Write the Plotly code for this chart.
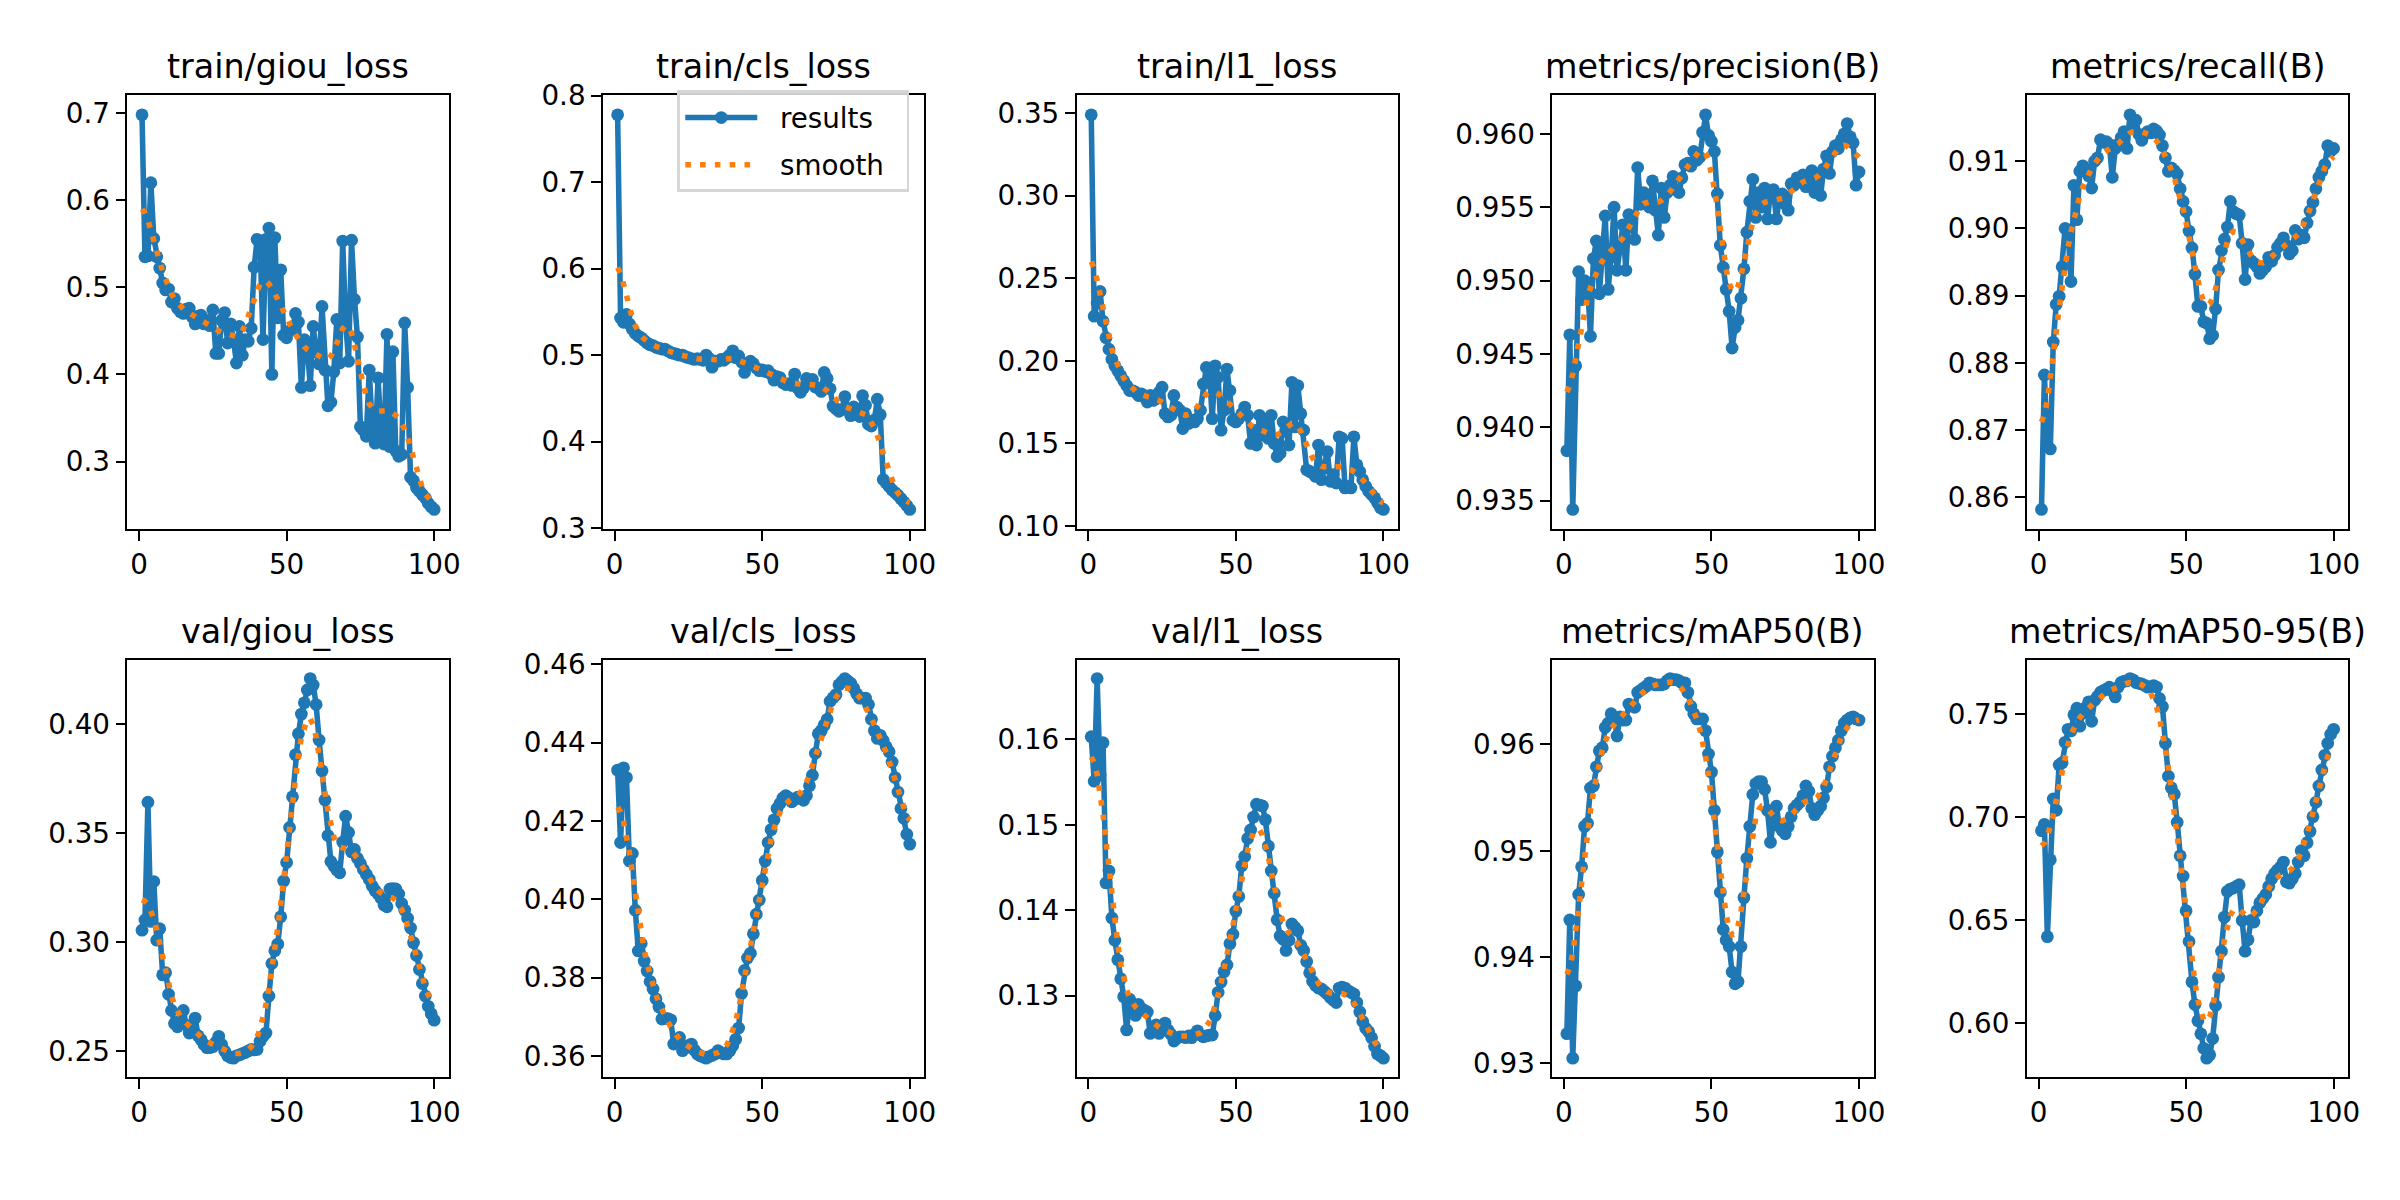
import numpy as np
import plotly.graph_objects as go

epochs = list(range(1, 101))

train_giou_loss = [
    0.698, 0.535, 0.536, 0.620, 0.556, 0.535, 0.522, 0.505, 0.497, 0.498,
    0.483, 0.487, 0.476, 0.472, 0.470, 0.475, 0.476, 0.466, 0.458, 0.467,
    0.468, 0.458, 0.462, 0.456, 0.474, 0.424, 0.424, 0.462, 0.471, 0.436,
    0.458, 0.440, 0.413, 0.455, 0.422, 0.440, 0.438, 0.453, 0.523, 0.555,
    0.551, 0.440, 0.555, 0.568, 0.400, 0.557, 0.465, 0.520, 0.445, 0.442,
    0.450, 0.452, 0.470, 0.460, 0.385, 0.440, 0.430, 0.387, 0.455, 0.426,
    0.412, 0.478, 0.405, 0.364, 0.368, 0.403, 0.463, 0.413, 0.553, 0.460,
    0.415, 0.554, 0.486, 0.443, 0.340, 0.336, 0.329, 0.405, 0.340, 0.321,
    0.396, 0.332, 0.320, 0.446, 0.317, 0.426, 0.312, 0.306, 0.308, 0.459,
    0.385, 0.282, 0.278, 0.270, 0.266, 0.262, 0.258, 0.252, 0.248, 0.245]

train_cls_loss = [
    0.778, 0.543, 0.538, 0.547, 0.536, 0.530, 0.525, 0.522, 0.520, 0.517,
    0.514, 0.512, 0.511, 0.509, 0.508, 0.507, 0.507, 0.505, 0.503, 0.502,
    0.501, 0.500, 0.500, 0.498, 0.497, 0.496, 0.495, 0.496, 0.495, 0.494,
    0.500, 0.496, 0.486, 0.493, 0.493, 0.495, 0.494, 0.497, 0.500, 0.505,
    0.497, 0.499, 0.492, 0.480, 0.488, 0.493, 0.490, 0.485, 0.482, 0.483,
    0.481, 0.482, 0.478, 0.471, 0.475, 0.474, 0.468, 0.466, 0.467, 0.465,
    0.478, 0.462, 0.457, 0.462, 0.473, 0.468, 0.472, 0.463, 0.462, 0.458,
    0.480, 0.473, 0.461, 0.441, 0.438, 0.435, 0.437, 0.452, 0.437, 0.430,
    0.440, 0.433, 0.429, 0.453, 0.442, 0.420, 0.418, 0.425, 0.449, 0.431,
    0.356, 0.352, 0.348, 0.344, 0.341, 0.338, 0.334, 0.330, 0.326, 0.3215]

train_l1_loss = [
    0.349, 0.227, 0.235, 0.242, 0.224, 0.214, 0.207, 0.201, 0.197, 0.194,
    0.191, 0.188, 0.185, 0.182, 0.182, 0.181, 0.179, 0.180, 0.178, 0.175,
    0.179, 0.176, 0.177, 0.181, 0.184, 0.168, 0.166, 0.167, 0.179, 0.172,
    0.170, 0.159, 0.168, 0.162, 0.164, 0.163, 0.165, 0.170, 0.186, 0.196,
    0.194, 0.165, 0.197, 0.190, 0.158, 0.170, 0.195, 0.182, 0.164, 0.163,
    0.165, 0.168, 0.172, 0.167, 0.150, 0.158, 0.149, 0.167, 0.155, 0.162,
    0.153, 0.167, 0.150, 0.142, 0.144, 0.163, 0.158, 0.149, 0.187, 0.160,
    0.185, 0.168, 0.158, 0.134, 0.133, 0.132, 0.130, 0.149, 0.128, 0.135,
    0.145, 0.127, 0.131, 0.126, 0.154, 0.153, 0.123, 0.124, 0.123, 0.154,
    0.137, 0.133, 0.128, 0.124, 0.121, 0.119, 0.117, 0.114, 0.111, 0.110]

precision_B = [
    0.9384, 0.9463, 0.9344, 0.9442, 0.9506, 0.9487, 0.9500, 0.9498, 0.9462, 0.9515,
    0.9527, 0.9491, 0.9520, 0.9544, 0.9494, 0.9516, 0.9550, 0.9507, 0.9522, 0.9538,
    0.9507, 0.9545, 0.9540, 0.9528, 0.9577, 0.9552, 0.9560, 0.9555, 0.9550, 0.9568,
    0.9548, 0.9531, 0.9563, 0.9543, 0.9560, 0.9565, 0.9571, 0.9562, 0.9560, 0.9570,
    0.9579, 0.9580, 0.9578, 0.9588, 0.9582, 0.9584, 0.9601, 0.9613, 0.9599, 0.9595,
    0.9588, 0.9559, 0.9524, 0.9509, 0.9494, 0.9479, 0.9454, 0.9468, 0.9473, 0.9488,
    0.9508, 0.9533, 0.9554, 0.9569, 0.9543, 0.9560, 0.9550, 0.9563, 0.9542, 0.9560,
    0.9562, 0.9542, 0.9556, 0.9559, 0.9552, 0.9548, 0.9566, 0.9565, 0.9570, 0.9568,
    0.9572, 0.9564, 0.9570, 0.9575, 0.9560, 0.9572, 0.9558, 0.9576, 0.9585, 0.9573,
    0.9588, 0.9592, 0.9590, 0.9596, 0.9600, 0.9607, 0.9598, 0.9594, 0.9565, 0.9574]

recall_B = [
    0.8582, 0.8782, 0.8676, 0.8672, 0.8831, 0.8887, 0.8899, 0.8943, 0.9000, 0.8998,
    0.8921, 0.9064, 0.9013, 0.9085, 0.9093, 0.9088, 0.9078, 0.9060, 0.9100, 0.9105,
    0.9132, 0.9128, 0.9129, 0.9125, 0.9076, 0.9119, 0.9125, 0.9135, 0.9144, 0.9119,
    0.9169, 0.9153, 0.9161, 0.9140, 0.9131, 0.9140, 0.9144, 0.9142, 0.9148, 0.9145,
    0.9139, 0.9123, 0.9105, 0.9085, 0.9090, 0.9086, 0.9081, 0.9059, 0.9040, 0.9025,
    0.8996, 0.8971, 0.8932, 0.8884, 0.8884, 0.8861, 0.8859, 0.8836, 0.8841, 0.8880,
    0.8938, 0.8967, 0.8984, 0.9002, 0.9040, 0.9025, 0.9022, 0.9020, 0.8978, 0.8924,
    0.8976, 0.8952, 0.8948, 0.8943, 0.8933, 0.8938, 0.8943, 0.8957, 0.8951, 0.8960,
    0.8972, 0.8978, 0.8986, 0.8975, 0.8962, 0.8967, 0.8997, 0.8984, 0.8990, 0.8986,
    0.9008, 0.9026, 0.9039, 0.9059, 0.9076, 0.9085, 0.9095, 0.9123, 0.9115, 0.9119]

val_giou_loss = [
    0.3054, 0.3101, 0.3641, 0.3094, 0.3277, 0.3008, 0.3061, 0.2849, 0.2859, 0.2760,
    0.2686, 0.2626, 0.2611, 0.2640, 0.2686, 0.2619, 0.2582, 0.2600, 0.2651, 0.2570,
    0.2552, 0.2530, 0.2515, 0.2515, 0.2520, 0.2540, 0.2567, 0.2530, 0.2500, 0.2478,
    0.2470, 0.2467, 0.2478, 0.2482, 0.2488, 0.2493, 0.2500, 0.2507, 0.2505, 0.2507,
    0.2545, 0.2567, 0.2582, 0.2752, 0.2901, 0.2960, 0.2990, 0.3116, 0.3280, 0.3364,
    0.3525, 0.3666, 0.3859, 0.3955, 0.4045, 0.4097, 0.4156, 0.4208, 0.4178, 0.4089,
    0.3926, 0.3785, 0.3651, 0.3488, 0.3369, 0.3349, 0.3330, 0.3317, 0.3458, 0.3577,
    0.3502, 0.3413, 0.3424, 0.3384, 0.3360, 0.3332, 0.3310, 0.3287, 0.3257, 0.3235,
    0.3220, 0.3201, 0.3170, 0.3161, 0.3243, 0.3245, 0.3243, 0.3220, 0.3176, 0.3146,
    0.3109, 0.3064, 0.2997, 0.2938, 0.2874, 0.2809, 0.2752, 0.2705, 0.2671, 0.2641]

val_cls_loss = [
    0.4330, 0.4145, 0.4336, 0.4311, 0.4098, 0.4117, 0.3972, 0.3868, 0.3887, 0.3842,
    0.3817, 0.3790, 0.3771, 0.3746, 0.3725, 0.3694, 0.3696, 0.3695, 0.3692, 0.3630,
    0.3640, 0.3647, 0.3613, 0.3620, 0.3626, 0.3630, 0.3615, 0.3605, 0.3600, 0.3597,
    0.3594, 0.3598, 0.3601, 0.3605, 0.3613, 0.3608, 0.3605, 0.3605, 0.3613, 0.3626,
    0.3642, 0.3671, 0.3759, 0.3818, 0.3850, 0.3862, 0.3912, 0.3962, 0.3998, 0.4048,
    0.4098, 0.4145, 0.4178, 0.4203, 0.4232, 0.4245, 0.4259, 0.4265, 0.4260, 0.4249,
    0.4255, 0.4261, 0.4258, 0.4253, 0.4265, 0.4290, 0.4317, 0.4373, 0.4423, 0.4431,
    0.4445, 0.4460, 0.4506, 0.4515, 0.4523, 0.4548, 0.4556, 0.4564, 0.4558, 0.4552,
    0.4539, 0.4525, 0.4514, 0.4514, 0.4514, 0.4498, 0.4460, 0.4431, 0.4411, 0.4419,
    0.4406, 0.4390, 0.4377, 0.4351, 0.4311, 0.4274, 0.4232, 0.4207, 0.4166, 0.4141]

val_l1_loss = [
    0.1603, 0.1551, 0.1671, 0.1558, 0.1596, 0.1432, 0.1446, 0.1391, 0.1365, 0.1342,
    0.1320, 0.1299, 0.1260, 0.1296, 0.1290, 0.1277, 0.1290, 0.1285, 0.1283, 0.1281,
    0.1256, 0.1262, 0.1266, 0.1256, 0.1262, 0.1268, 0.1260, 0.1255, 0.1247, 0.1250,
    0.1252, 0.1252, 0.1251, 0.1253, 0.1251, 0.1255, 0.1259, 0.1254, 0.1252, 0.1253,
    0.1254, 0.1254, 0.1277, 0.1304, 0.1316, 0.1328, 0.1336, 0.1361, 0.1372, 0.1399,
    0.1416, 0.1452, 0.1463, 0.1484, 0.1494, 0.1509, 0.1524, 0.1523, 0.1522, 0.1506,
    0.1475, 0.1446, 0.1420, 0.1389, 0.1370, 0.1366, 0.1353, 0.1365, 0.1384, 0.1380,
    0.1376, 0.1359, 0.1353, 0.1340, 0.1327, 0.1317, 0.1312, 0.1309, 0.1308, 0.1305,
    0.1302, 0.1298, 0.1295, 0.1292, 0.1309, 0.1310, 0.1309, 0.1306, 0.1304, 0.1302,
    0.1292, 0.1281, 0.1270, 0.1262, 0.1258, 0.1251, 0.1241, 0.1232, 0.1230, 0.1227]

mAP50_B = [
    0.9328, 0.9435, 0.9305, 0.9373, 0.9459, 0.9485, 0.9523, 0.9526, 0.9559, 0.9561,
    0.9579, 0.9594, 0.9597, 0.9616, 0.9620, 0.9629, 0.9626, 0.9608, 0.9626, 0.9623,
    0.9623, 0.9638, 0.9636, 0.9635, 0.9649, 0.9651, 0.9653, 0.9655, 0.9658, 0.9657,
    0.9656, 0.9656, 0.9656, 0.9657, 0.9660, 0.9662, 0.9661, 0.9661, 0.9660, 0.9658,
    0.9658, 0.9649, 0.9636, 0.9629, 0.9624, 0.9624, 0.9624, 0.9613, 0.9591, 0.9574,
    0.9538, 0.9499, 0.9461, 0.9426, 0.9416, 0.9410, 0.9386, 0.9375, 0.9377, 0.9410,
    0.9456, 0.9493, 0.9523, 0.9553, 0.9563, 0.9565, 0.9565, 0.9558, 0.9538, 0.9508,
    0.9528, 0.9542, 0.9523, 0.9519, 0.9516, 0.9523, 0.9532, 0.9540, 0.9543, 0.9546,
    0.9552, 0.9561, 0.9556, 0.9540, 0.9534, 0.9538, 0.9542, 0.9550, 0.9560, 0.9579,
    0.9589, 0.9597, 0.9604, 0.9613, 0.9620, 0.9623, 0.9625, 0.9626, 0.9624, 0.9623]

mAP50_95_B = [
    0.6933, 0.6964, 0.6419, 0.6792, 0.7087, 0.7032, 0.7252, 0.7263, 0.7362, 0.7425,
    0.7417, 0.7495, 0.7527, 0.7440, 0.7503, 0.7530, 0.7558, 0.7464, 0.7566, 0.7585,
    0.7605, 0.7613, 0.7620, 0.7629, 0.7610, 0.7582, 0.7630, 0.7652, 0.7658, 0.7660,
    0.7671, 0.7665, 0.7652, 0.7648, 0.7645, 0.7638, 0.7629, 0.7632, 0.7637, 0.7630,
    0.7574, 0.7535, 0.7357, 0.7197, 0.7142, 0.7110, 0.6974, 0.6812, 0.6713, 0.6545,
    0.6396, 0.6200, 0.6090, 0.6011, 0.5948, 0.5878, 0.5830, 0.5846, 0.5925, 0.6085,
    0.6223, 0.6349, 0.6514, 0.6639, 0.6650, 0.6655, 0.6663, 0.6671, 0.6498, 0.6349,
    0.6404, 0.6498, 0.6490, 0.6545, 0.6584, 0.6604, 0.6624, 0.6663, 0.6700, 0.6726,
    0.6742, 0.6757, 0.6781, 0.6686, 0.6679, 0.6700, 0.6726, 0.6781, 0.6836, 0.6812,
    0.6875, 0.6930, 0.7001, 0.7071, 0.7150, 0.7228, 0.7299, 0.7357, 0.7401, 0.7425]

titles = ["train/giou_loss", "train/cls_loss", "train/l1_loss", "metrics/precision(B)",
          "metrics/recall(B)", "val/giou_loss", "val/cls_loss", "val/l1_loss",
          "metrics/mAP50(B)", "metrics/mAP50-95(B)"]
series = [train_giou_loss, train_cls_loss, train_l1_loss, precision_B, recall_B,
          val_giou_loss, val_cls_loss, val_l1_loss, mAP50_B, mAP50_95_B]

x_tick_vals = [0, 50, 100]
y_tick_vals = [
    [0.3, 0.4, 0.5, 0.6, 0.7],
    [0.3, 0.4, 0.5, 0.6, 0.7, 0.8],
    [0.10, 0.15, 0.20, 0.25, 0.30, 0.35],
    [0.935, 0.940, 0.945, 0.950, 0.955, 0.960],
    [0.86, 0.87, 0.88, 0.89, 0.90, 0.91],
    [0.25, 0.30, 0.35, 0.40],
    [0.36, 0.38, 0.40, 0.42, 0.44, 0.46],
    [0.13, 0.14, 0.15, 0.16],
    [0.93, 0.94, 0.95, 0.96],
    [0.60, 0.65, 0.70, 0.75],
]
y_tick_text = [
    ["0.3", "0.4", "0.5", "0.6", "0.7"],
    ["0.3", "0.4", "0.5", "0.6", "0.7", "0.8"],
    ["0.10", "0.15", "0.20", "0.25", "0.30", "0.35"],
    ["0.935", "0.940", "0.945", "0.950", "0.955", "0.960"],
    ["0.86", "0.87", "0.88", "0.89", "0.90", "0.91"],
    ["0.25", "0.30", "0.35", "0.40"],
    ["0.36", "0.38", "0.40", "0.42", "0.44", "0.46"],
    ["0.13", "0.14", "0.15", "0.16"],
    ["0.93", "0.94", "0.95", "0.96"],
    ["0.60", "0.65", "0.70", "0.75"],
]
legend_labels = ["results", "smooth"]


def gaussian_smooth(y, sigma=3.0, truncate=4.0):
    # same smoothing the original results plot applies (gaussian_filter1d, reflect mode)
    y = np.asarray(y, dtype=float)
    r = int(truncate * sigma + 0.5)
    k = np.exp(-0.5 * (np.arange(-r, r + 1) / sigma) ** 2)
    k /= k.sum()
    yp = np.pad(y, r, mode="symmetric")
    return np.convolve(yp, k, mode="valid")


W, H = 2400, 1200
PX = 200 / 72.0
BLUE = "#1f77b4"
ORANGE = "#ff7f0e"
FONT = "DejaVu Sans"
NB = "\u00a0\u00a0"

col_left = [120, 598, 1074, 1552, 2029]
ax_w = 323
row_top = [73, 653]
row_bot = [519, 1082]

fig = go.Figure()
layout = dict(
    width=W, height=H,
    margin=dict(l=0, r=0, t=0, b=0),
    paper_bgcolor="white", plot_bgcolor="white",
    font=dict(family=FONT, size=10 * PX, color="black"),
    showlegend=True,
    legend=dict(
        x=906 / W, y=1 - 68 / H, xanchor="right", yanchor="top",
        bgcolor="rgba(255,255,255,0.8)", bordercolor="#d6d6d6", borderwidth=2.8,
        font=dict(family=FONT, size=10 * PX, color="black"),
        itemwidth=72, tracegroupgap=8, traceorder="grouped",
    ),
    annotations=[],
)

xmin, xmax = min(epochs), max(epochs)
xpad = 0.05 * (xmax - xmin)

for i, (title, y) in enumerate(zip(titles, series)):
    n = i + 1
    r, c = divmod(i, 5)
    xa = "x" if n == 1 else f"x{n}"
    ya = "y" if n == 1 else f"y{n}"
    show = (n == 2)
    fig.add_trace(go.Scatter(
        x=epochs, y=y, mode="lines+markers", name=NB + legend_labels[0] + NB,
        legendgroup="results",
        line=dict(color=BLUE, width=2 * PX),
        marker=dict(color=BLUE, size=4.6 * PX, line=dict(width=0)),
        xaxis=xa, yaxis=ya, showlegend=show))
    fig.add_trace(go.Scatter(
        x=epochs, y=gaussian_smooth(y), mode="lines", name=NB + legend_labels[1] + NB,
        legendgroup="smooth",
        line=dict(color=ORANGE, width=2 * PX, dash=f"{2*PX:.1f}px,{3.3*PX:.1f}px"),
        xaxis=xa, yaxis=ya, showlegend=show))

    lo, hi = min(y), max(y)
    ypad = 0.05 * (hi - lo)
    l = col_left[c]
    xd = [l / W, (l + ax_w) / W]
    yd = [1 - row_bot[r] / H, 1 - row_top[r] / H]
    common = dict(
        showline=True, mirror=True, linecolor="black", linewidth=0.8 * PX,
        ticks="outside", ticklen=3.5 * PX, tickwidth=0.8 * PX, tickcolor="black",
        showgrid=False, zeroline=False,
        tickfont=dict(family=FONT, size=10 * PX, color="black"),
    )
    layout["xaxis" if n == 1 else f"xaxis{n}"] = dict(
        domain=xd, anchor=ya, range=[xmin - xpad, xmax + xpad],
        tickvals=x_tick_vals, ticktext=[str(v) for v in x_tick_vals], **common)
    layout["yaxis" if n == 1 else f"yaxis{n}"] = dict(
        domain=yd, anchor=xa, range=[lo - ypad, hi + ypad],
        tickvals=y_tick_vals[i], ticktext=y_tick_text[i], **common)
    layout["annotations"].append(dict(
        text=title, x=(xd[0] + xd[1]) / 2, y=yd[1], xref="paper", yref="paper",
        xanchor="center", yanchor="bottom", yshift=7, showarrow=False,
        font=dict(family=FONT, size=12 * PX, color="black")))

fig.update_layout(**layout)
fig.write_html("out.html")
